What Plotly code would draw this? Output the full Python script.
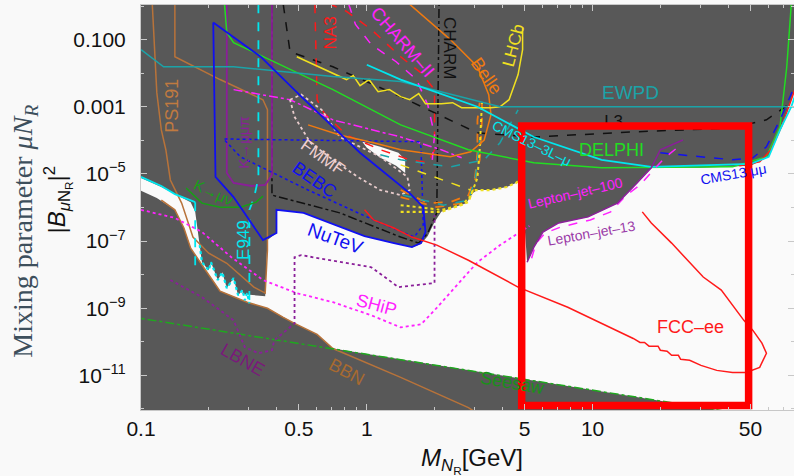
import numpy as np
import plotly.graph_objects as go

# ---------------- data: contours ----------------
# every point is (log10 M_N [GeV], log10 |B_muN|^2)
allowed_main = [(-1.00,-5.12),(-0.91,-5.39),(-0.85,-5.60),(-0.78,-5.84),(-0.76,-6.13),(-0.74,-7.12),
    (-0.73,-7.63),(-0.70,-7.87),(-0.69,-7.63),(-0.66,-8.16),(-0.64,-7.93),(-0.62,-8.40),(-0.59,-8.10),
    (-0.57,-8.61),(-0.55,-8.46),(-0.55,-8.58),(-0.45,-8.64),(-0.44,-6.97),(-0.40,-6.76),(-0.40,-6.07),
    (-0.28,-6.16),(-0.16,-6.46),(-0.01,-6.85),(0.12,-7.06),(0.20,-7.18),(0.24,-7.09),(0.27,-6.85),
    (0.30,-6.43),(0.33,-6.13),(0.38,-6.01),(0.44,-5.87),(0.47,-5.57),(0.49,-5.48),(0.55,-5.48),
    (0.62,-5.39),(0.66,-5.27),(0.69,-5.24),(0.70,-6.67),(0.71,-7.63),(0.74,-7.18),(0.78,-6.73),
    (0.85,-6.46),(0.98,-6.28),(1.11,-5.87),(1.18,-5.39),(1.26,-4.82),(1.48,-4.82),(1.70,-4.76),
    (1.78,-4.49),(1.81,-3.99),(1.85,-3.33),(1.89,-2.58),(1.95,-2.58),(1.95,-12.3),(1.75,-12.24),
    (-0.15,-10.20),(-0.22,-9.78),(-0.32,-9.45),(-0.37,-9.27),(-0.44,-9.00),(-0.53,-8.82),(-0.56,-8.73),
    (-0.65,-8.49),(-0.72,-7.81),(-0.78,-7.21),(-0.81,-6.61),(-0.85,-6.07),(-0.93,-5.72),(-1.00,-5.50)]
allowed_wedge = [(-0.02,-4.04),(0.06,-4.19),(0.14,-4.37),(0.17,-4.58),(0.17,-4.97),(0.13,-4.76),
    (0.06,-4.52),(0.00,-4.22)]

ps191 = [(-0.95,0.05),(-0.93,-2.58),(-0.91,-3.69),(-0.89,-4.28),(-0.87,-5.18),(-0.82,-5.87),(-0.77,-6.88),
    (-0.70,-7.36),(-0.62,-7.66),(-0.57,-7.96),(-0.50,-8.37),(-0.45,-8.55),(-0.44,-7.27),(-0.44,-3.09),
    (-0.46,-2.79),(-0.65,-2.19),(-0.85,-1.51),(-0.85,0.05)]
bbn = [(-0.91,-5.78),(-0.85,-6.07),(-0.81,-6.61),(-0.78,-7.21),(-0.72,-7.81),(-0.65,-8.49),(-0.53,-8.82),
    (-0.44,-9.00),(-0.37,-9.27),(-0.32,-9.45),(-0.22,-9.78),(-0.15,-10.20),(0.15,-11.06),(0.45,-11.96),(0.50,-12.17)]
seesaw = [(-1.05,-9.25),(1.75,-12.24)]
nutev = [(-0.68,-0.49),(-0.67,-5.09),(-0.59,-5.69),(-0.46,-6.97),(-0.40,-6.76),(-0.40,-6.07),(-0.28,-6.16),
    (-0.16,-6.46),(-0.01,-6.85),(0.12,-7.06),(0.20,-7.18),(0.24,-7.06),(0.26,-6.73),(0.25,-5.99),(0.19,-5.57),
    (-0.03,-4.37),(-0.29,-2.70),(-0.47,-1.51),(-0.68,-0.49)]
bebc = [(-0.63,-3.96),(-0.29,-3.99),(0.23,-4.04),(0.24,-4.19),(0.25,-6.52),(0.21,-6.88),(0.03,-6.37),
    (-0.26,-5.48),(-0.56,-4.49),(-0.63,-3.99)]
k_mumupi = [(-0.62,0.05),(-0.62,-4.97),(-0.59,-5.27),(-0.51,-5.36),(-0.45,-5.33),(-0.42,-5.03),(-0.42,0.05)]
k_munu = [(-0.80,-5.42),(-0.73,-5.87),(-0.65,-5.99),(-0.56,-5.99),(-0.49,-5.84),(-0.46,-5.66)]
e949_top = [(-1.00,-5.09),(-0.91,-5.36),(-0.85,-5.60),(-0.76,-5.84)]
e949_left = [(-0.76,-5.84),(-0.76,-7.87)]
e949_right = [(-0.48,0.05),(-0.48,-5.12),(-0.50,-5.72),(-0.52,-6.07),(-0.52,-8.76)]
e949_jag = [(-0.74,-7.12),(-0.73,-7.63),(-0.70,-7.87),(-0.69,-7.63),(-0.66,-8.16),(-0.64,-7.93),(-0.62,-8.40),
    (-0.59,-8.10),(-0.57,-8.61),(-0.55,-8.46),(-0.54,-8.76),(-0.53,-8.55),(-0.52,-8.85)]
delphi = [(-0.63,0.05),(-0.62,-0.79),(-0.59,-1.09),(-0.15,-2.49),(0.15,-3.54),(0.45,-4.28),(0.74,-4.67),
    (1.04,-4.82),(1.62,-4.79),(1.77,-4.49),(1.83,-3.60),(1.86,-1.81),(1.88,0.05)]
ewpd = [(-1.0,-1.30),(-0.90,-1.81),(-0.59,-1.81),(-0.15,-2.10),(0.15,-2.25),(0.59,-3.00),(1.95,-3.00)]
cms_3l = [(0.00,-1.75),(0.15,-2.19),(0.49,-3.00),(0.74,-3.90),(1.04,-4.58),(1.26,-4.79),(1.70,-4.70),
    (1.78,-4.49),(1.83,-3.69),(1.88,-3.00),(1.90,-2.60)]
cms_mumu = [(1.30,-4.37),(1.62,-4.58),(1.71,-4.52),(1.77,-4.19),(1.83,-3.39),(1.87,-2.79),(1.90,-2.30)]
cms_red = [(1.65,-4.76),(1.74,-4.64),(1.79,-4.28),(1.84,-3.54),(1.88,-2.79),(1.90,-2.40)]
l3 = [(-0.37,0.05),(-0.34,-1.36),(-0.15,-1.81),(0.15,-2.70),(0.30,-3.18),(0.49,-3.78),(0.74,-3.90),
    (1.18,-3.75),(1.62,-3.63),(1.77,-3.39),(1.88,-2.88),(1.90,-2.73)]
charm = [(-0.42,0.05),(-0.42,-5.63),(-0.12,-6.16),(0.15,-6.88),(0.23,-7.06),(0.27,-6.76),(0.31,-6.16),(0.32,0.05)]
na3 = [(-0.23,0.05),(-0.22,-2.79),(-0.19,-3.18),(-0.09,-3.84),(0.06,-4.28),(0.19,-4.58),(0.27,-4.67),
    (0.30,-4.28),(0.30,-2.49),(0.24,-1.99),(0.15,-1.51),(0.02,-0.70),(-0.09,-0.16),(-0.16,0.05)]
charm2 = [(-0.08,0.05),(-0.05,-0.55),(0.02,-1.15),(0.13,-1.66),(0.22,-2.19),(0.27,-2.94),(0.30,-3.84),(0.29,-4.58)]
magenta_dd = [(-0.59,-2.49),(-0.34,-2.79),(-0.15,-3.39),(0.15,-3.90),(0.33,-4.28),(0.42,-4.52)]
belle = [(-0.26,-3.54),(-0.12,-3.84),(0.03,-4.07),(0.15,-4.28),(0.37,-4.49),(0.46,-4.34),(0.52,-3.99),
    (0.55,-3.24),(0.54,-2.64),(0.49,-1.81),(0.37,-1.00),(0.19,0.05)]
belle_d1 = [(0.15,-5.48),(0.27,-5.87),(0.37,-5.84),(0.45,-5.63),(0.48,-5.09),(0.49,-4.37),(0.49,-3.39),(0.50,-2.88)]
belle_d2 = [(0.15,-5.69),(0.31,-5.99),(0.42,-5.87),(0.47,-5.48),(0.50,-4.58),(0.51,-3.39),(0.51,-2.88)]
lhcb_dot_outer = [(0.15,-6.13),(0.33,-6.13),(0.38,-6.01),(0.45,-5.84),(0.47,-5.48),(0.55,-5.48),(0.62,-5.39),
    (0.66,-5.27),(0.69,-5.10)]
lhcb_dot_inner = [(0.15,-5.93),(0.33,-6.07),(0.42,-5.93),(0.46,-5.66),(0.49,-5.12),(0.50,-4.28),(0.51,-2.88)]
lhcb_dash = [(0.15,-4.73),(0.34,-5.18),(0.46,-5.48)]
lhcb = [(-0.31,-1.51),(-0.15,-1.99),(-0.09,-2.19),(-0.06,-2.07),(-0.03,-2.37),(0.01,-2.19),(0.05,-2.55),
    (0.10,-2.49),(0.15,-2.70),(0.19,-2.79),(0.23,-2.61),(0.26,-2.91),(0.33,-2.91),(0.38,-2.88),(0.42,-3.03),
    (0.49,-3.03),(0.55,-3.03),(0.59,-3.00),(0.63,-2.79),(0.67,-2.04),(0.69,-1.30),(0.69,-0.64)]
teal_d1 = [(0.06,-4.43),(0.15,-4.58),(0.37,-4.79),(0.52,-4.58),(0.59,-4.07),(0.67,-3.09)]
teal_d2 = [(0.16,-5.63),(0.34,-5.93),(0.45,-5.78),(0.48,-5.18),(0.49,-4.58),(0.50,-3.99)]
fmmf = [(-0.34,-2.79),(-0.29,-2.64),(-0.20,-3.09),(-0.12,-3.90),(0.06,-4.49),(0.18,-5.09),(0.19,-5.48),
    (0.15,-5.63),(0.06,-5.48),(-0.04,-5.09),(-0.15,-4.58),(-0.25,-4.07),(-0.32,-3.30),(-0.34,-2.79)]
ship = [(-1.0,-6.07),(-0.85,-6.31),(-0.73,-6.73),(-0.60,-7.48),(-0.46,-8.16),(-0.31,-8.55),(-0.15,-8.82),
    (0.02,-9.21),(0.15,-9.57),(0.24,-9.48),(0.30,-9.06),(0.40,-8.31),(0.49,-7.63),(0.59,-7.12),(0.67,-6.76),(0.72,-6.55)]
lepjet100 = [(0.73,-7.51),(0.75,-7.06),(0.79,-6.76),(0.86,-6.58),(0.99,-6.37),(1.08,-6.13),(1.15,-5.63),
    (1.21,-5.33),(1.27,-4.88),(1.32,-4.52),(1.38,-4.19)]
lepjet13 = [(0.71,-7.63),(0.74,-7.18),(0.78,-6.73),(0.85,-6.46),(0.98,-6.28),(1.11,-5.87),(1.18,-5.39),
    (1.26,-4.82),(1.30,-4.28),(1.35,-4.13),(1.40,-3.99)]
lbne = [(-0.87,-8.16),(-0.73,-8.67),(-0.65,-9.06),(-0.59,-9.36),(-0.54,-10.16),(-0.48,-10.34),(-0.42,-10.25),
    (-0.41,-9.96),(-0.32,-9.45),(-0.32,-7.48),(-0.29,-7.42),(-0.16,-7.57),(0.02,-7.78),(0.14,-8.37),(0.30,-8.25),(0.30,-6.22)]
fcc_ee = [(-0.01,-6.07),(0.03,-6.37),(0.12,-6.61),(0.20,-6.88),(0.31,-7.12),(0.45,-7.57),(0.67,-8.37),
    (0.89,-8.97),(1.18,-9.90),(1.21,-10.02),(1.23,-10.02),(1.25,-10.13),(1.29,-10.13),(1.30,-10.25),
    (1.33,-10.28),(1.35,-10.40),(1.38,-10.40),(1.39,-10.52),(1.43,-10.55),(1.48,-10.70),(1.55,-10.85),
    (1.62,-10.91),(1.68,-10.91),(1.74,-10.76),(1.77,-10.34),(1.75,-10.04),(1.71,-9.66),(1.67,-9.36),
    (1.57,-8.46),(1.49,-8.07),(1.35,-7.06),(1.26,-6.46),(1.22,-6.13)]
signal_box_m = [0.686, 1.691]       # log10 M edges of the highlighted box
signal_box_b = [-11.896, -3.573]    # log10 |B|^2 edges

x_tick_vals = [0.1, 0.5, 1, 5, 10, 50]
x_tick_text = ["0.1", "0.5", "1", "5", "10", "50"]
y_tick_vals = [1e-1, 1e-3, 1e-5, 1e-7, 1e-9, 1e-11]
y_tick_text = ["0.100", "0.001", "10<sup>−5</sup>", "10<sup>−7</sup>", "10<sup>−9</sup>", "10<sup>−11</sup>"]

# ---------------- figure ----------------
GRAY = "#585858"
WHITE = "#fafafa"
fig = go.Figure()

def xy(pts):
    a = np.array(pts, dtype=float)
    return 10 ** a[:, 0], 10 ** a[:, 1]

def fill(pts, color):
    x, y = xy(pts)
    fig.add_trace(go.Scatter(x=x, y=y, mode="lines", fill="toself", fillcolor=color,
                             line=dict(width=0, color=color), hoverinfo="skip"))

def line(pts, color, dash="solid", width=1.5):
    x, y = xy(pts)
    fig.add_trace(go.Scatter(x=x, y=y, mode="lines", line=dict(color=color, dash=dash, width=width),
                             hoverinfo="skip"))

fill(allowed_main, WHITE)
fill(allowed_wedge, WHITE)

BROWN = "#b8733a"; BLUE = "#1010f0"; CYAN = "#00e6ee"; TEAL = "#1ba3a8"; RED = "#ff1a1a"
MAG = "#ff22ff"; PURP = "#8a1f99"; ORNG = "#f07a10"; YEL = "#f0e020"; GRN = "#22dd22"

line(ps191, BROWN)
line(bbn, BROWN)
line(seesaw, "#1fa81f", "dashdot")
line(l3, "#111111", "dash")
line(charm, "#111111", "dashdot")
line(k_mumupi, PURP, width=1.8)
line(e949_top, CYAN, width=1.8)
line(e949_left, CYAN, "dash", 1.8)
line(e949_right, CYAN, "dash", 1.8)
line(e949_jag, CYAN, "dot", 2.2)
line(na3, RED, "dash")
line(charm2, MAG, "dash")
line(magenta_dd, MAG, "dashdot")
line(fmmf, "#e8cccc", "dot", 1.8)
line(bebc, BLUE, "dot")
line(belle_d1, ORNG, "dash", 1.8)
line(belle_d2, ORNG, "dash", 1.8)
line(teal_d1, TEAL, "dash")
line(teal_d2, TEAL, "dash")
line(lhcb_dot_inner, YEL, "dot", 2)
line(lhcb_dot_outer, YEL, "dot", 2.2)
line(lhcb_dash, YEL, "dash")
line(belle, ORNG)
line(lhcb, YEL)
line(delphi, GRN)
line(ewpd, TEAL)
line(cms_red, RED)
line(cms_3l, CYAN, width=1.8)
line(cms_mumu, BLUE, "dash")
line(k_munu, "#16a016")
line(nutev, BLUE, width=1.8)
line(ship, MAG, "dot", 1.8)
line(lbne, PURP, "dot", 1.8)
line(lepjet100, MAG, "dash")
line(lepjet13, PURP)
line(fcc_ee, RED)

# label partially hidden below the box
fig.add_trace(go.Scatter(x=[10 ** 1.093], y=[10 ** -3.47], mode="text", text=["L3"],
                         textfont=dict(family="Liberation Sans", size=17, color="#111111"),
                         hoverinfo="skip"))

# highlighted search window (drawn on top)
bx0, bx1 = signal_box_m
by0, by1 = signal_box_b
bxm = 0.5 * (bx0 + bx1)
box = [(bxm, by1), (bx1, by1), (bx1, by0), (bx0, by0), (bx0, by1), (bxm, by1)]
bx, byy = xy(box)
fig.add_trace(go.Scatter(x=bx, y=byy, mode="lines", line=dict(color="#ff0000", width=7.5), hoverinfo="skip"))

labels = [
    ("PS191", -0.863, -2.97, -90, "#c07a40", 18),
    ("K→μμπ", -0.549, -4.05, -90, PURP, 15),
    ("NA3", -0.159, -0.79, -90, RED, 17),
    ("CHARM–II", 0.159, -1.06, 49, MAG, 18),
    ("CHARM", 0.367, -1.24, 90, "#111111", 17),
    ("Belle", 0.531, -2.07, 55, ORNG, 18),
    ("LHCb", 0.650, -1.18, -75, YEL, 17),
    ("EWPD", 1.168, -2.57, 0, TEAL, 19),
    ("CMS13–3L–μ", 0.730, -4.07, 26, CYAN, 14),
    ("DELPHI", 1.084, -4.28, 0, GRN, 18),
    ("CMS13 μμ", 1.624, -5.00, -10, BLUE, 14),
    ("Lepton–jet–100", 0.925, -5.57, -13, MAG, 14),
    ("Lepton–jet–13", 0.996, -6.76, -10, "#9a3aa8", 14),
    ("FMMF", -0.195, -4.52, 35, "#f0d0d0", 17),
    ("BEBC", -0.230, -5.18, 35, BLUE, 18),
    ("K→μν", -0.677, -5.54, 25, "#16a016", 15),
    ("E949", -0.549, -6.97, -90, CYAN, 17),
    ("NuTeV", -0.137, -6.91, 20, BLUE, 19),
    ("SHiP", 0.044, -8.91, 15, MAG, 18),
    ("LBNE", -0.549, -10.55, 30, "#7a1a7a", 18),
    ("BBN", -0.088, -10.91, 28, "#a86a30", 18),
    ("Seesaw", 0.646, -11.24, 10, "#189018", 18),
    ("FCC–ee", 1.434, -9.57, 0, RED, 18),
]
for txt, lx, ly, ang, col, sz in labels:
    fig.add_annotation(x=lx, y=ly, xref="x", yref="y", text=txt, showarrow=False, textangle=ang,
                       xanchor="center", yanchor="middle",
                       font=dict(family="Liberation Sans", size=sz, color=col))

# axis titles
fig.add_annotation(x=-0.178, y=0.442, xref="paper", yref="paper", showarrow=False, textangle=-90,
                   xanchor="center", yanchor="middle",
                   text="Mixing parameter <i>μN</i><sub><i>R</i></sub>",
                   font=dict(family="Liberation Serif", size=28, color="#3d4f5c"))
fig.add_annotation(x=-0.127, y=0.52, xref="paper", yref="paper", showarrow=False, textangle=-90,
                   xanchor="center", yanchor="middle",
                   text="|<i>B</i><sub><i>μ</i>N<sub>R</sub></sub>|<sup>2</sup>",
                   font=dict(family="Liberation Sans", size=24, color="#111111"))
fig.add_annotation(x=0.507, y=-0.125, xref="paper", yref="paper", showarrow=False,
                   xanchor="center", yanchor="middle",
                   text="<i>M</i><sub><i>N</i><sub>R</sub></sub>[GeV]",
                   font=dict(family="Liberation Sans", size=24, color="#111111"))

x_minor = [v * d for d in (0.1, 1, 10) for v in range(2, 10) if v != 5 and v * d < 79]
y_minor = [10.0 ** -k for k in range(0, 13, 2)]

fig.update_layout(
    width=794, height=476, margin=dict(l=141, r=0, t=5, b=66),
    paper_bgcolor="#f9f9f9", plot_bgcolor=GRAY, showlegend=False,
    font=dict(family="Liberation Sans"),
    xaxis=dict(type="log", range=[-1.0, 1.892], tickvals=x_tick_vals, ticktext=x_tick_text,
               ticks="inside", ticklen=6, tickcolor="#c8c8c8", showgrid=False, zeroline=False,
               showline=True, linecolor="#c8c8c8", mirror="ticks", ticklabelstandoff=0,
               tickfont=dict(size=21, color="#111111"),
               minor=dict(tickvals=x_minor, ticks="inside", ticklen=3, tickcolor="#c8c8c8", showgrid=False)),
    yaxis=dict(type="log", range=[-12.03, 0.03], tickvals=y_tick_vals, ticktext=y_tick_text,
               ticks="inside", ticklen=6, tickcolor="#c8c8c8", showgrid=False, zeroline=False,
               showline=True, linecolor="#c8c8c8", mirror="ticks", ticklabelstandoff=10,
               tickfont=dict(size=21, color="#111111"),
               minor=dict(tickvals=y_minor, ticks="inside", ticklen=3, tickcolor="#c8c8c8", showgrid=False)),
)

fig.write_html("out.html", config={"displayModeBar": False, "staticPlot": True},
               post_script="document.body.style.margin='0';document.body.style.overflow='hidden';"
                           "document.documentElement.style.background='#f9f9f9';")
